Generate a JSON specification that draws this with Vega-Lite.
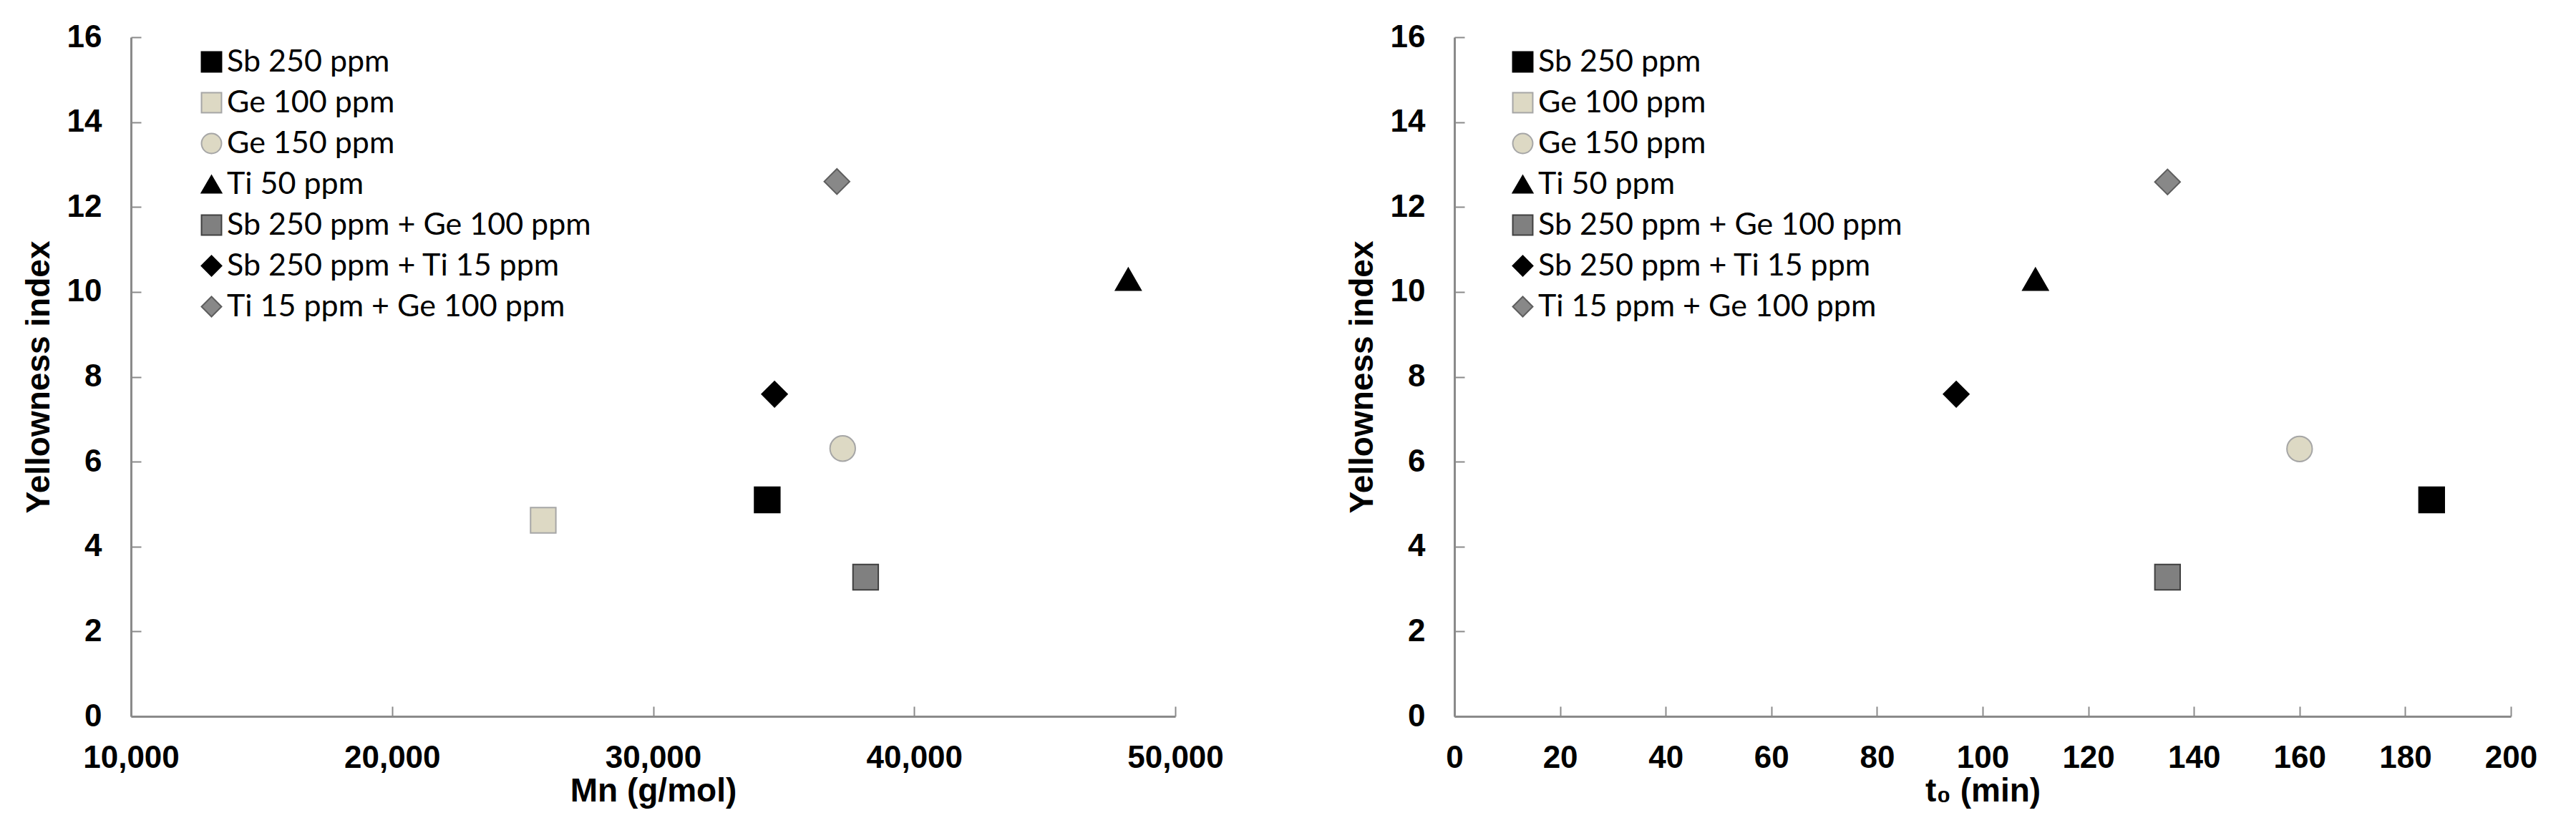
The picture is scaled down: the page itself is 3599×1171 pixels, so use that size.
{
  "$schema": "https://vega.github.io/schema/vega-lite/v6.json",
  "background": "white",
  "padding": {"left": 31, "top": 30, "right": 5, "bottom": 5},
  "spacing": 170,
  "datasets": {
    "mn": [
      {"series": "Sb 250 ppm", "x": 34370, "yi": 5.1},
      {"series": "Ge 100 ppm", "x": 25790, "yi": 4.62},
      {"series": "Ge 150 ppm", "x": 37260, "yi": 6.31},
      {"series": "Ti 50 ppm", "x": 48200, "yi": 10.3},
      {"series": "Sb 250 ppm + Ge 100 ppm", "x": 38140, "yi": 3.28},
      {"series": "Sb 250 ppm + Ti 15 ppm", "x": 34650, "yi": 7.59},
      {"series": "Ti 15 ppm + Ge 100 ppm", "x": 37040, "yi": 12.6}
    ],
    "t0": [
      {"series": "Sb 250 ppm", "x": 185, "yi": 5.1},
      {"series": "Ge 150 ppm", "x": 160, "yi": 6.3},
      {"series": "Ti 50 ppm", "x": 110, "yi": 10.3},
      {"series": "Sb 250 ppm + Ge 100 ppm", "x": 135, "yi": 3.28},
      {"series": "Sb 250 ppm + Ti 15 ppm", "x": 95, "yi": 7.59},
      {"series": "Ti 15 ppm + Ge 100 ppm", "x": 135, "yi": 12.59}
    ]
  },
  "config": {
    "view": {"stroke": null},
    "axis": {
      "domainColor": "#8a8a8a", "domainWidth": 3,
      "tickColor": "#8a8a8a", "tickWidth": 2, "tickSize": -14,
      "grid": false, "labelFlush": false, "labelOverlap": false,
      "labelFont": "Liberation Sans", "labelFontWeight": "bold", "labelFontSize": 44, "labelColor": "#000000",
      "titleFont": "Liberation Sans", "titleFontWeight": "bold", "titleFontSize": 46, "titleColor": "#000000"
    },
    "axisX": {"labelPadding": 50, "titlePadding": 2},
    "axisY": {"labelPadding": 55, "titlePadding": 15},
    "legend": {
      "title": null, "labelFont": "Lato", "labelFontSize": 43, "labelColor": "#000000", "labelLimit": 2000,
      "symbolSize": 780, "symbolStrokeWidth": 2, "rowPadding": 13, "padding": 0, "labelOffset": 0
    }
  },
  "resolve": {
    "scale": {"fill": "independent", "stroke": "independent", "shape": "independent", "x": "independent", "y": "independent"},
    "legend": {"fill": "independent", "stroke": "independent", "shape": "independent"}
  },
  "hconcat": [
    {
      "width": 1459, "height": 949,
      "data": {"name": "mn"},
      "mark": {"type": "point", "filled": true, "strokeWidth": 2, "opacity": 1, "size": 1250},
      "encoding": {
        "x": {"field": "x", "type": "quantitative", "title": "Mn (g/mol)",
              "scale": {"domain": [10000, 50000], "nice": false, "zero": false},
              "axis": {"values": [10000, 20000, 30000, 40000, 50000], "format": ",d"}},
        "y": {"field": "yi", "type": "quantitative", "title": "Yellowness index",
              "scale": {"domain": [0, 16], "nice": false},
              "axis": {"values": [0, 2, 4, 6, 8, 10, 12, 14, 16]}},
        "fill": {"field": "series", "type": "nominal",
                 "scale": {"domain": ["Sb 250 ppm", "Ge 100 ppm", "Ge 150 ppm", "Ti 50 ppm", "Sb 250 ppm + Ge 100 ppm", "Sb 250 ppm + Ti 15 ppm", "Ti 15 ppm + Ge 100 ppm"],
                           "range": ["#000000", "#ddd9c4", "#ddd9c4", "#000000", "#808080", "#000000", "#888888"]},
                 "legend": {"orient": "none", "legendX": 91, "legendY": 13}},
        "stroke": {"field": "series", "type": "nominal",
                   "scale": {"domain": ["Sb 250 ppm", "Ge 100 ppm", "Ge 150 ppm", "Ti 50 ppm", "Sb 250 ppm + Ge 100 ppm", "Sb 250 ppm + Ti 15 ppm", "Ti 15 ppm + Ge 100 ppm"],
                             "range": ["#000000", "#a6a6a6", "#a6a6a6", "#000000", "#404040", "#000000", "#5e5e5e"]},
                   "legend": {"orient": "none", "legendX": 91, "legendY": 13}},
        "shape": {"field": "series", "type": "nominal",
                  "scale": {"domain": ["Sb 250 ppm", "Ge 100 ppm", "Ge 150 ppm", "Ti 50 ppm", "Sb 250 ppm + Ge 100 ppm", "Sb 250 ppm + Ti 15 ppm", "Ti 15 ppm + Ge 100 ppm"],
                            "range": ["square", "square", "circle", "triangle-up", "square", "diamond", "diamond"]},
                  "legend": {"orient": "none", "legendX": 91, "legendY": 13}}
      }
    },
    {
      "width": 1476, "height": 949,
      "data": {"name": "t0"},
      "mark": {"type": "point", "filled": true, "strokeWidth": 2, "opacity": 1, "size": 1250},
      "encoding": {
        "x": {"field": "x", "type": "quantitative", "title": "t₀ (min)",
              "scale": {"domain": [0, 200], "nice": false},
              "axis": {"values": [0, 20, 40, 60, 80, 100, 120, 140, 160, 180, 200], "format": "d"}},
        "y": {"field": "yi", "type": "quantitative", "title": "Yellowness index",
              "scale": {"domain": [0, 16], "nice": false},
              "axis": {"values": [0, 2, 4, 6, 8, 10, 12, 14, 16]}},
        "fill": {"field": "series", "type": "nominal",
                 "scale": {"domain": ["Sb 250 ppm", "Ge 100 ppm", "Ge 150 ppm", "Ti 50 ppm", "Sb 250 ppm + Ge 100 ppm", "Sb 250 ppm + Ti 15 ppm", "Ti 15 ppm + Ge 100 ppm"],
                           "range": ["#000000", "#ddd9c4", "#ddd9c4", "#000000", "#808080", "#000000", "#888888"]},
                 "legend": {"orient": "none", "legendX": 74, "legendY": 13}},
        "stroke": {"field": "series", "type": "nominal",
                   "scale": {"domain": ["Sb 250 ppm", "Ge 100 ppm", "Ge 150 ppm", "Ti 50 ppm", "Sb 250 ppm + Ge 100 ppm", "Sb 250 ppm + Ti 15 ppm", "Ti 15 ppm + Ge 100 ppm"],
                             "range": ["#000000", "#a6a6a6", "#a6a6a6", "#000000", "#404040", "#000000", "#5e5e5e"]},
                   "legend": {"orient": "none", "legendX": 74, "legendY": 13}},
        "shape": {"field": "series", "type": "nominal",
                  "scale": {"domain": ["Sb 250 ppm", "Ge 100 ppm", "Ge 150 ppm", "Ti 50 ppm", "Sb 250 ppm + Ge 100 ppm", "Sb 250 ppm + Ti 15 ppm", "Ti 15 ppm + Ge 100 ppm"],
                            "range": ["square", "square", "circle", "triangle-up", "square", "diamond", "diamond"]},
                  "legend": {"orient": "none", "legendX": 74, "legendY": 13}}
      }
    }
  ]
}
